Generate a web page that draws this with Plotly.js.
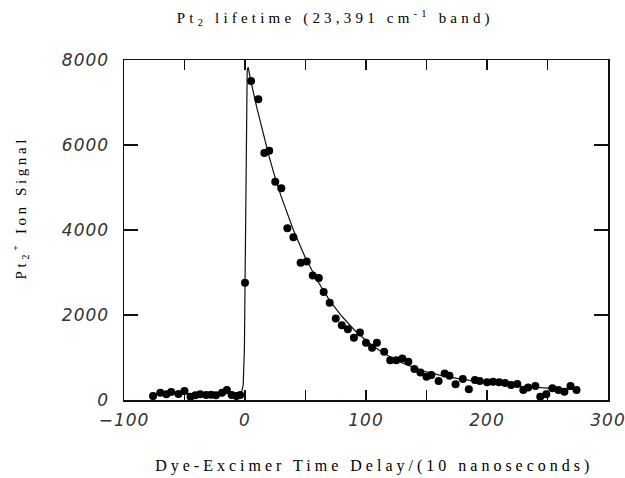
<!DOCTYPE html>
<html>
<head>
<meta charset="utf-8">
<script src="https://cdn.plot.ly/plotly-3.0.1.min.js"></script>
<style>
html,body{margin:0;padding:0;background:#fff;}
#chart{width:625px;height:478px;}
.annotation-text{letter-spacing:3.6px;}
.annotation[data-index="0"] .annotation-text{letter-spacing:4.2px;}
.annotation[data-index="2"] .annotation-text{letter-spacing:4px;}
.xtick text,.ytick text{letter-spacing:1px;}
</style>
</head>
<body>
<div id="chart"></div>
<script>
// baseline points (before excitation)
const baseX = [-76,-70,-65,-61,-55,-50,-45,-41,-37,-32,-28,-24,-19,-15,-11,-7,-4];
const baseY = [94,172,133,188,141,211,78,109,133,117,125,109,172,235,117,94,117];
// decay points
const decayX = [0,5,11,16,20,25,30,35,40,46,51,56,61,65,70,75,80,85,90,95,100,105,109,115,120,125,130,135,140,145,150,154,160,165,169,174,180,185,190,194,200,205,210,215,220,225,230,234,240,244,249,254,259,264,269,274];
const decayY = [2760,7507,7077,5811,5865,5137,4981,4043,3832,3230,3260,2932,2869,2541,2291,1916,1759,1665,1462,1588,1345,1228,1345,1134,938,938,978,899,727,649,547,586,446,626,570,368,493,251,469,446,420,430,420,400,352,375,235,297,328,78,133,274,235,196,328,235];
// fitted curve
const fitX = [-76,-10,-3,-1.5,-0.5,0,0.5,1,1.8,2.6,5,10,15,20,25,30,40,50,60,70,80,90,100,110,120,130,140,150,160,175,200,225,250,275];
const fitY = [150,150,170,350,1200,2800,5200,7000,7750,7830,7480,6850,6250,5720,5220,4780,4000,3340,2800,2340,1970,1660,1400,1190,1010,870,760,660,590,510,400,330,280,245];

const xTickVals = [-100,0,100,200,300];
const yTickVals = [0,2000,4000,6000,8000];

const titleText = 'Pt<sub>2</sub> lifetime (23,391 cm<sup>-1</sup> band)';
const yTitleText = 'Pt<sub>2</sub><sup>+</sup> Ion Signal';
const xTitleText = 'Dye-Excimer Time Delay/(10 nanoseconds)';

const traces = [
  {x: fitX, y: fitY, type: 'scatter', mode: 'lines', line: {color: '#111', width: 1.2}, hoverinfo: 'skip'},
  {x: baseX.concat(decayX), y: baseY.concat(decayY), type: 'scatter', mode: 'markers',
   marker: {color: '#000', size: 8, symbol: 'circle'}}
];

const tickFont = {family: 'DejaVu Sans ExtraLight, DejaVu Sans', size: 17, color: '#333', style: 'italic'};
const serifFam = 'Liberation Serif, Times New Roman, serif';

const layout = {
  width: 625, height: 478,
  margin: {l: 124, r: 17, t: 60, b: 78},
  paper_bgcolor: '#fff', plot_bgcolor: '#fff',
  showlegend: false,
  xaxis: {
    range: [-100, 300], tickvals: xTickVals, ticktext: xTickVals.map(v => v < 0 ? '\u2212' + Math.abs(v) : String(v)),
    ticks: 'inside', ticklen: 10, tickwidth: 1.2, tickcolor: '#111',
    minor: {dtick: 50, tick0: 0, ticks: 'inside', ticklen: 10, tickwidth: 1.2, tickcolor: '#111'},
    showline: true, linecolor: '#111', linewidth: 1.5, mirror: 'ticks',
    showgrid: false, zeroline: false, tickfont: tickFont, ticklabelstandoff: 4,
    ticklabeloverflow: 'allow'
  },
  yaxis: {
    range: [0, 8000], tickvals: yTickVals, ticktext: yTickVals.map(String),
    ticks: 'inside', ticklen: 14, tickwidth: 1.2, tickcolor: '#111',
    showline: true, linecolor: '#111', linewidth: 1.5, mirror: 'ticks',
    showgrid: false, zeroline: false, tickfont: tickFont, ticklabelstandoff: 10,
    ticklabeloverflow: 'allow'
  },
  annotations: [
    {text: titleText, xref: 'paper', yref: 'paper', x: (335 - 124) / 484, y: (400 - 17) / 341, xanchor: 'center', yanchor: 'middle',
     showarrow: false, font: {family: serifFam, size: 15, color: '#000'}},
    {text: yTitleText, xref: 'paper', yref: 'paper', x: (20 - 124) / 484, y: (400 - 207) / 341, xanchor: 'center', yanchor: 'middle',
     textangle: -90, showarrow: false, font: {family: serifFam, size: 15, color: '#000'}},
    {text: xTitleText, xref: 'paper', yref: 'paper', x: (374 - 124) / 484, y: (400 - 466) / 341, xanchor: 'center', yanchor: 'middle',
     showarrow: false, font: {family: serifFam, size: 16, color: '#000'}}
  ]
};

Plotly.newPlot('chart', traces, layout, {staticPlot: true, displayModeBar: false});
</script>
</body>
</html>
